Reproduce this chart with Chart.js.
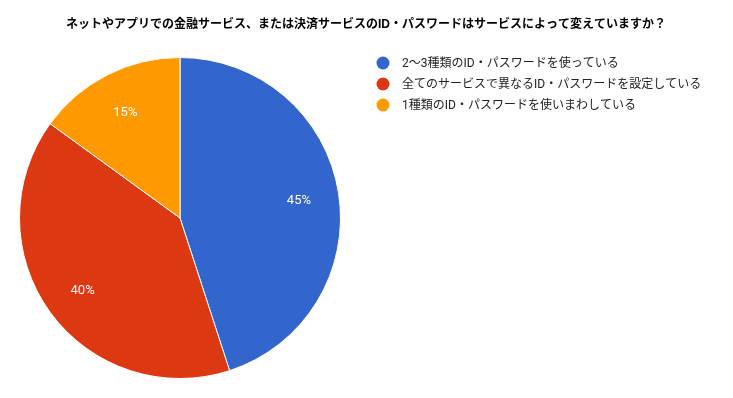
<!DOCTYPE html>
<html>
<head>
<meta charset="utf-8">
<script src="https://cdn.jsdelivr.net/npm/chart.js@4"></script>
<style>
  html, body { margin: 0; padding: 0; background: #fff; }
  #wrap { width: 733px; height: 398px; }
</style>
</head>
<body>
<div id="wrap"><canvas id="pie" width="733" height="398"></canvas></div>
<script>
var titleText = 'ネットやアプリでの金融サービス、または決済サービスのID・パスワードはサービスによって変えていますか？';
var labels = [
    '2～3種類のID・パスワードを使っている',
    '全てのサービスで異なるID・パスワードを設定している',
    '1種類のID・パスワードを使いまわしている'
];
var values = [45, 40, 15];
var colors = ['#3366cc', '#dc3912', '#ff9900'];

var fontFamily = 'Roboto, "Noto Sans CJK JP", sans-serif';

// title, legend and percentage labels drawn by hand
var decorPlugin = {
    id: 'decor',
    afterDraw: function (chart) {
        var ctx = chart.ctx;
        ctx.save();

        ctx.fillStyle = '#000';
        ctx.font = 'bold 12px "Liberation Sans", Arial, "Noto Sans CJK JP", sans-serif';
        ctx.textAlign = 'center';
        ctx.textBaseline = 'middle';
        ctx.fillText(titleText, 366, 25);

        ctx.font = '12px ' + fontFamily;
        ctx.textAlign = 'left';
        for (var i = 0; i < labels.length; i++) {
            var y = 63 + i * 21;
            ctx.beginPath();
            ctx.arc(383, y, 6.5, 0, Math.PI * 2);
            ctx.fillStyle = colors[i];
            ctx.fill();
            ctx.fillStyle = '#222';
            ctx.fillText(labels[i], 402, y + 1);
        }

        var meta = chart.getDatasetMeta(0);
        var total = values.reduce(function (a, b) { return a + b; }, 0);
        ctx.font = '13px ' + fontFamily;
        ctx.fillStyle = '#fff';
        ctx.textAlign = 'center';
        for (var j = 0; j < meta.data.length; j++) {
            var arc = meta.data[j];
            var mid = (arc.startAngle + arc.endAngle) / 2;
            var r = arc.outerRadius * 0.75;
            var pct = Math.round(values[j] / total * 100) + '%';
            ctx.fillText(pct, arc.x + Math.cos(mid) * r, arc.y + Math.sin(mid) * r + 2);
        }
        ctx.restore();
    }
};

var ctx = document.getElementById('pie').getContext('2d');
new Chart(ctx, {
    type: 'pie',
    data: {
        labels: labels,
        datasets: [{
            data: values,
            backgroundColor: colors,
            borderColor: '#fff',
            borderWidth: 1
        }]
    },
    options: {
        responsive: false,
        animation: false,
        layout: {
            padding: { top: 57, bottom: 19, left: 19, right: 392 }
        },
        plugins: {
            legend: { display: false },
            title: { display: false },
            tooltip: { enabled: false }
        }
    },
    plugins: [decorPlugin]
});
</script>
</body>
</html>
